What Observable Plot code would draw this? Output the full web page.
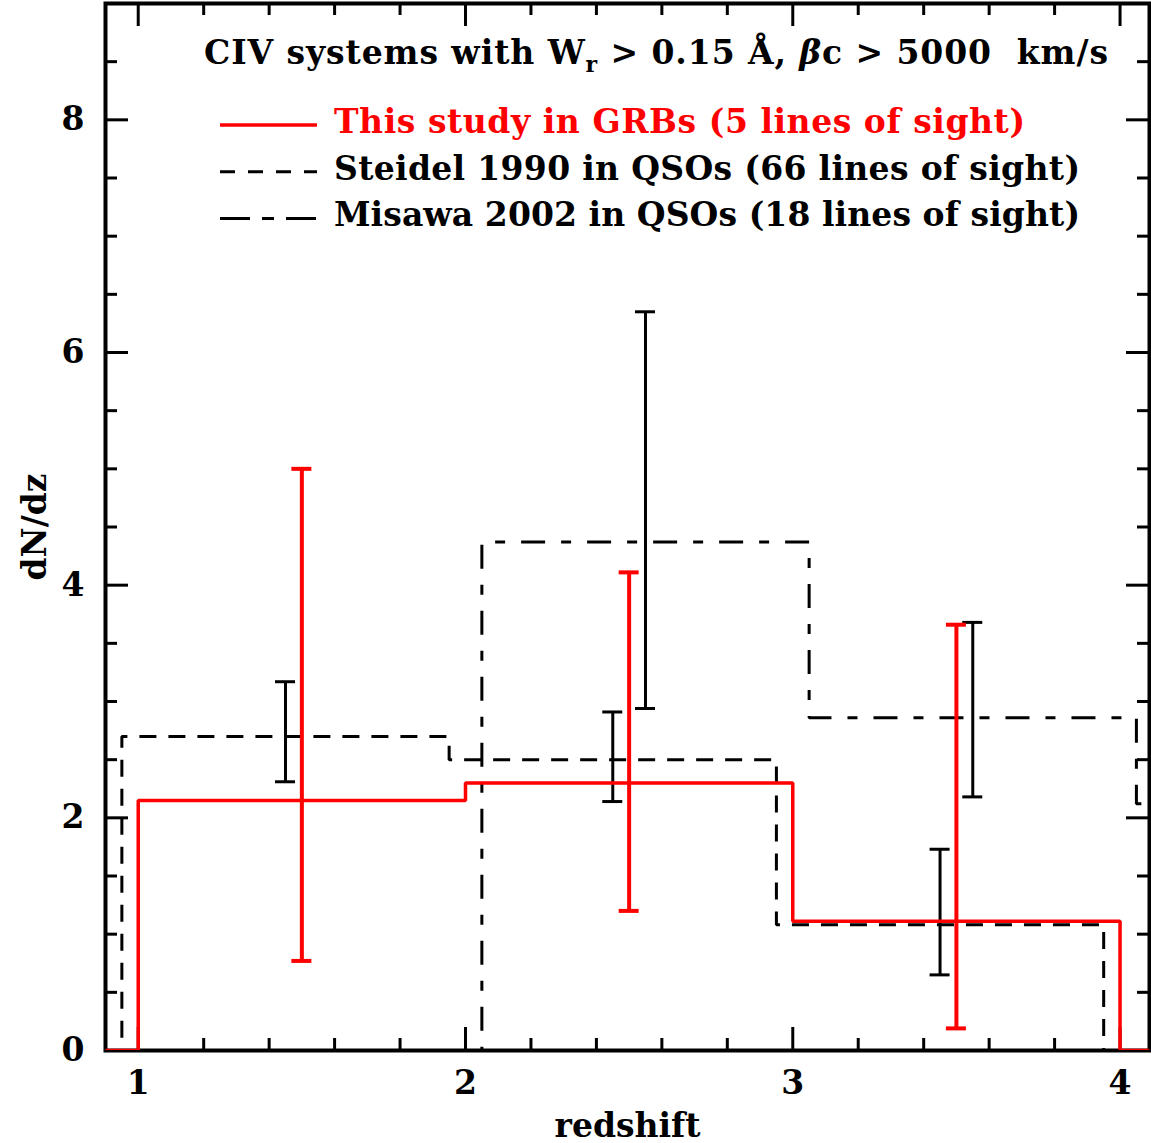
<!DOCTYPE html>
<html>
<head>
<meta charset="utf-8">
<script src="https://cdn.jsdelivr.net/npm/d3@7"></script>
<script src="https://cdn.jsdelivr.net/npm/@observablehq/plot@0.6"></script>
<style>
  html, body { margin: 0; padding: 0; background: #fff; }
  #chart svg { display: block; }
</style>
</head>
<body>
<div id="chart"></div>
<script>
// ---------- data ----------
const xDomain = [0.9, 4.09];
const yDomain = [0, 9];

// This study, GRBs (5 lines of sight)
const grbEdges  = [1, 2, 3, 4];
const grbValues = [2.15, 2.30, 1.11];
const grbErrX   = [1.5, 2.5, 3.5];
const grbErrLo  = [0.77, 1.20, 0.19];
const grbErrHi  = [5.00, 4.11, 3.66];

// Steidel 1990, QSOs (66 lines of sight)
const steidelEdges  = [0.95, 1.95, 2.95, 3.95];
const steidelValues = [2.70, 2.50, 1.08];
const steidelErrX   = [1.45, 2.45, 3.45];
const steidelErrLo  = [2.31, 2.14, 0.65];
const steidelErrHi  = [3.17, 2.91, 1.73];

// Misawa 2002, QSOs (18 lines of sight)
const misawaEdges  = [2.05, 3.05, 4.05, 5.05];
const misawaValues = [4.37, 2.86, 2.12];
const misawaErrX   = [2.55, 3.55];
const misawaErrLo  = [2.94, 2.18];
const misawaErrHi  = [6.35, 3.68];

// ticks
const xMajor = [1, 2, 3, 4];
const xMinor = [1.2, 1.4, 1.6, 1.8, 2.2, 2.4, 2.6, 2.8, 3.2, 3.4, 3.6, 3.8];
const yMajor = [0, 2, 4, 6, 8];
const yMinor = [0.5, 1, 1.5, 2.5, 3, 3.5, 4.5, 5, 5.5, 6.5, 7, 7.5, 8.5];

// text
const titleParts = ["CIV systems with W", "r", " > 0.15 Å, ", "β", "c > 5000  km/s"];
const legendLabels = [
  "This study in GRBs (5 lines of sight)",
  "Steidel 1990 in QSOs (66 lines of sight)",
  "Misawa 2002 in QSOs (18 lines of sight)"
];
const xLabel = "redshift";
const yLabel = "dN/dz";

// ---------- helpers ----------
function steps(edges, values) {
  const pts = [{x: xDomain[0], y: 0}];
  edges.forEach((e, i) => pts.push({x: e, y: i < values.length ? values[i] : 0}));
  const last = edges[edges.length - 1];
  if (last < xDomain[1]) pts.push({x: xDomain[1], y: 0});
  return pts;
}
function errs(xs, lo, hi) { return xs.map((x, i) => ({x, lo: lo[i], hi: hi[i]})); }

const RED = "#ff0000";
const FONT = "DejaVu Serif";
const FS = 33;
const W = 1151, H = 1143;
const mL = 105, mR = 2, mT = 3, mB = 93;
const plotH = H - mT - mB;
const plotW = W - mL - mR;

const steidelDash = "17,12";
const misawaDash = "24,16,10,16";

function errorBars(data, color, width, cap) {
  return [
    Plot.ruleX(data, {x: "x", y1: "lo", y2: "hi", stroke: color, strokeWidth: width, strokeLinecap: "butt"}),
    Plot.ruleY(data, {x1: "x", x2: "x", y: "lo", insetLeft: -cap, insetRight: -cap, stroke: color, strokeWidth: width}),
    Plot.ruleY(data, {x1: "x", x2: "x", y: "hi", insetLeft: -cap, insetRight: -cap, stroke: color, strokeWidth: width})
  ];
}

const chart = Plot.plot({
  width: W, height: H,
  marginLeft: mL, marginRight: mR, marginTop: mT, marginBottom: mB,
  x: {domain: xDomain},
  y: {domain: yDomain},
  style: {fontFamily: FONT, fontWeight: "bold", background: "white", color: "black", overflow: "visible"},
  marks: [
    // tick marks on all four sides, inward
    Plot.ruleX(xMajor, {x: d => d, insetTop: plotH - 23, strokeWidth: 3}),
    Plot.ruleX(xMinor, {x: d => d, insetTop: plotH - 12, strokeWidth: 3}),
    Plot.ruleX(xMajor, {x: d => d, insetBottom: plotH - 23, strokeWidth: 3}),
    Plot.ruleX(xMinor, {x: d => d, insetBottom: plotH - 12, strokeWidth: 3}),
    Plot.ruleY(yMajor, {y: d => d, insetRight: plotW - 23, strokeWidth: 3}),
    Plot.ruleY(yMinor, {y: d => d, insetRight: plotW - 12, strokeWidth: 3}),
    Plot.ruleY(yMajor, {y: d => d, insetLeft: plotW - 23, strokeWidth: 3}),
    Plot.ruleY(yMinor, {y: d => d, insetLeft: plotW - 12, strokeWidth: 3}),
    Plot.frame({strokeWidth: 4}),
    Plot.axisX(xMajor, {tickSize: 0, tickPadding: 20, fontSize: FS, fontWeight: "bold", label: null, tickFormat: d => String(d)}),
    Plot.axisY(yMajor, {tickSize: 0, tickPadding: 21, fontSize: FS, fontWeight: "bold", label: null, tickFormat: d => String(d)}),
    Plot.text([xLabel], {text: d => d, frameAnchor: "bottom", textAnchor: "middle", dy: 86, fontSize: FS, fontWeight: "bold"}),
    Plot.text([yLabel], {text: d => d, frameAnchor: "left", textAnchor: "middle", dx: -70, rotate: -90, fontSize: FS, fontWeight: "bold"}),

    // Misawa 2002
    Plot.line(steps(misawaEdges, misawaValues), {x: "x", y: "y", curve: "step-after", stroke: "black", strokeWidth: 3, strokeDasharray: misawaDash, strokeLinecap: "butt", strokeLinejoin: "miter", clip: true}),
    ...errorBars(errs(misawaErrX, misawaErrLo, misawaErrHi), "black", 3, 10),
    // Steidel 1990
    Plot.line(steps(steidelEdges, steidelValues), {x: "x", y: "y", curve: "step-after", stroke: "black", strokeWidth: 3, strokeDasharray: steidelDash, strokeLinecap: "butt", strokeLinejoin: "miter", clip: true}),
    ...errorBars(errs(steidelErrX, steidelErrLo, steidelErrHi), "black", 3, 10),
    // This study
    Plot.line(steps(grbEdges, grbValues), {x: "x", y: "y", curve: "step-after", stroke: RED, strokeWidth: 3.5, strokeLinecap: "butt", strokeLinejoin: "miter", clip: true}),
    ...errorBars(errs(grbErrX, grbErrLo, grbErrHi), RED, 4, 10)
  ]
});

// ---------- title and legend (annotations inside the frame) ----------
const svg = d3.select(chart);
const ann = svg.append("g")
  .attr("font-family", FONT).attr("font-weight", "bold").attr("font-size", FS)
  .attr("text-anchor", "start")
  .style("white-space", "pre");

const title = ann.append("text").attr("x", mL + 99).attr("y", mT + 61).attr("text-anchor", "start")
  .attr("textLength", 904).attr("lengthAdjust", "spacing");
title.append("tspan").text(titleParts[0]);
title.append("tspan").attr("font-size", 22).attr("dy", 8).text(titleParts[1]);
title.append("tspan").attr("dy", -8).text(titleParts[2]);
title.append("tspan").attr("font-style", "italic").text(titleParts[3]);
title.append("tspan").text(titleParts[4]);

const legendStyles = [
  {color: RED, dash: null, width: 3.5, len: 691},
  {color: "black", dash: "15,13", width: 3, len: 746},
  {color: "black", dash: "30,12,12,12", width: 3, len: 746}
];
const baseY0 = mT + 130, rowGap = 46.7;
legendLabels.forEach((lab, i) => {
  const by = baseY0 + i * rowGap;
  const st = legendStyles[i];
  const ln = ann.append("line")
    .attr("x1", mL + 115).attr("x2", mL + 212)
    .attr("y1", by - 8).attr("y2", by - 8)
    .attr("stroke", st.color).attr("stroke-width", st.width);
  if (st.dash) ln.attr("stroke-dasharray", st.dash);
  ann.append("text").attr("x", mL + 229).attr("y", by).attr("text-anchor", "start")
    .attr("textLength", st.len).attr("lengthAdjust", "spacing")
    .attr("fill", st.color).text(lab);
});

document.getElementById("chart").appendChild(chart);
</script>
</body>
</html>
